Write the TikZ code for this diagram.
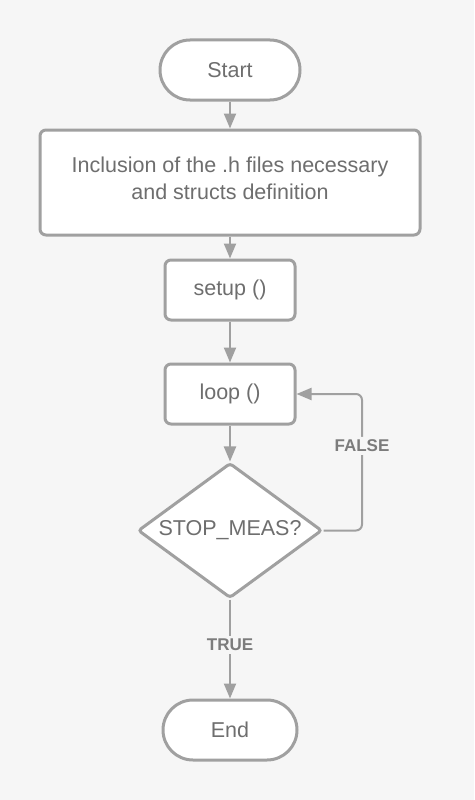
\documentclass[tikz,border=0pt]{standalone}
\usepackage{fontspec}
\setmainfont{Liberation Sans}
\usetikzlibrary{arrows.meta,shapes.geometric}

\definecolor{bgcol}{HTML}{F6F6F6}
\definecolor{linecol}{HTML}{A0A0A0}
\definecolor{txtcol}{HTML}{6E6E6E}

\tikzset{
    box/.style={draw=linecol, line width=3pt, fill=white, rounded corners=6pt,
        text=txtcol, font=\fontsize{21.5}{27}\selectfont, align=center},
    term/.style={box, rounded corners=30pt, minimum width=140pt, minimum height=60pt},
    proc/.style={box, minimum width=130pt, minimum height=60pt},
    flow/.style={draw=linecol, line width=2pt, -{Triangle[width=12pt,length=15pt]}},
    lbl/.style={fill=bgcol, text=txtcol!90, font=\fontsize{17}{19}\selectfont\bfseries,
        inner sep=3pt}
}

\begin{document}
\begin{tikzpicture}[x=1pt,y=-1pt]
        % 背景
        \fill [bgcol] (0,0) rectangle (474,800);
        \useasboundingbox (0,0) rectangle (474,800);

        % 结点
        \node [term] (start) at (230,70) {Start};
        \node [box, minimum width=380pt, minimum height=105pt] (incl) at (230,182.5) {};
        \node [text=txtcol, font=\fontsize{21.5}{27}\selectfont, align=center]
            (incltxt) at (230,178) {Inclusion of the .h files necessary\\and structs definition};
        \node [proc] (setup) at (230,290) {setup ()};
        \node [proc] (loop) at (230,394) {loop ()};
        \node [shape=diamond, draw=linecol, line width=3pt, fill=white,
            rounded corners=3pt, minimum width=184pt, minimum height=135pt,
            inner sep=0pt,
            label={[text=txtcol, font=\fontsize{21.5}{24}\selectfont]center:STOP\_MEAS?}]
            (dec) at (230,530.5) {};
        \node [term, minimum width=134pt] (end) at (230,730) {End};

        % 连线
        \draw [flow] (start) -- (incl);
        \draw [flow] (incl) -- (setup);
        \draw [flow] (setup) -- (loop);
        \draw [flow] (loop) -- (dec);
        \draw [flow] (dec.south) -- node [lbl, pos=0.46] {TRUE} (end);

        % 回路
        \coordinate (back) at (362,530.5);
        \draw [flow, rounded corners=6pt] (dec.east) -- (back)
            |- node [lbl, pos=0.31] {FALSE} (loop.east);

    \end{tikzpicture}
\end{document}
